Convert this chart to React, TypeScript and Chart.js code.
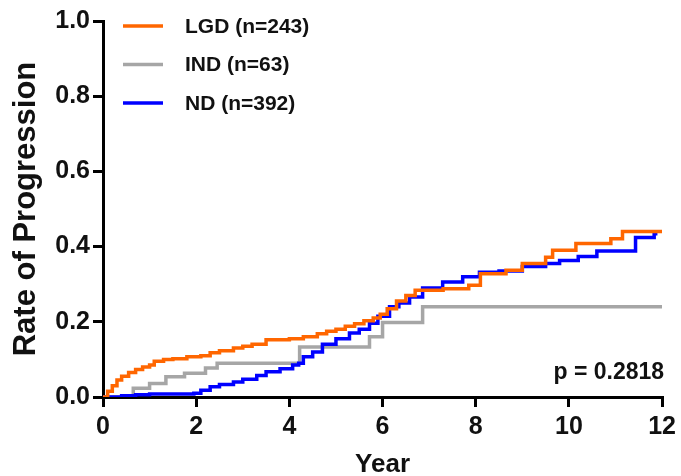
import React, { useEffect, useRef } from "react";
import { Chart, registerables } from "chart.js";

Chart.register(...registerables);

const lgdTimes = [0,0.1,0.2,0.3,0.4,0.55,0.7,0.85,1.0,1.1,1.3,1.5,1.8,2.1,2.3,2.5,2.8,3.0,3.2,3.5,4.0,4.3,4.6,4.8,5.0,5.2,5.4,5.6,5.8,5.95,6.1,6.3,6.5,6.7,7.3,7.85,8.1,8.65,9.0,9.5,9.65,10.15,10.9,11.15,12];
const lgdValues = [0,0.015,0.03,0.045,0.055,0.065,0.073,0.08,0.085,0.095,0.1,0.102,0.107,0.11,0.118,0.123,0.13,0.135,0.14,0.152,0.155,0.16,0.168,0.175,0.18,0.188,0.195,0.203,0.21,0.22,0.235,0.255,0.27,0.284,0.288,0.297,0.328,0.337,0.355,0.372,0.39,0.408,0.421,0.44,0.44];

const indTimes = [0,0.65,1.0,1.35,1.75,2.2,2.45,4.22,5.72,6.0,6.86,12];
const indValues = [0,0.023,0.036,0.054,0.063,0.077,0.09,0.133,0.16,0.198,0.24,0.24];

const ndTimes = [0,0.4,0.7,1.0,1.95,2.1,2.3,2.5,2.8,3.0,3.3,3.5,3.8,4.07,4.2,4.3,4.5,4.71,5.0,5.29,5.5,5.72,5.9,6.15,6.35,6.58,6.86,7.29,7.72,8.08,8.5,9.0,9.5,9.8,10.2,10.6,11.43,11.83,11.9];
const ndValues = [0,0.003,0.006,0.008,0.01,0.018,0.027,0.033,0.04,0.047,0.057,0.067,0.075,0.085,0.09,0.107,0.12,0.14,0.155,0.17,0.18,0.196,0.215,0.24,0.25,0.266,0.29,0.306,0.32,0.332,0.335,0.347,0.355,0.363,0.374,0.388,0.424,0.434,0.434];

const seriesLabels = ["LGD (n=243)", "IND (n=63)", "ND (n=392)"];
const seriesColors = ["#FF6600", "#A6A6A6", "#0000FF"];
const pValueText = "p = 0.2818";

const FONT = "'Liberation Sans', Arial, sans-serif";

const toPoints = (t: number[], v: number[]) => t.map((x, i) => ({ x, y: v[i] }));

const overlayPlugin = {
  id: "overlay",
  afterDraw(chart: any) {
    const ctx = chart.ctx;
    const area = chart.chartArea;
    ctx.save();
    const lx0 = area.left + 20;
    const lx1 = area.left + 60;
    const ty = area.top + 5;
    const gap = 38.5;
    ctx.font = `bold 21px ${FONT}`;
    ctx.textBaseline = "middle";
    ctx.textAlign = "left";
    seriesLabels.forEach((lab, i) => {
      const y = ty + i * gap;
      ctx.strokeStyle = seriesColors[i];
      ctx.lineWidth = 3.5;
      ctx.beginPath();
      ctx.moveTo(lx0, y);
      ctx.lineTo(lx1, y);
      ctx.stroke();
      ctx.fillStyle = "#111";
      ctx.fillText(lab, area.left + 82, y + 1);
    });
    ctx.font = `bold 23px ${FONT}`;
    ctx.textAlign = "right";
    ctx.fillText(pValueText, area.right + 2, area.bottom - 24);
    ctx.restore();
  },
};

export default function App() {
  const ref = useRef<HTMLCanvasElement>(null);
  useEffect(() => {
    document.body.style.margin = "0";
    const c = new Chart(ref.current!, {
      type: "line",
      data: {
        datasets: [
          { label: seriesLabels[0], data: toPoints(lgdTimes, lgdValues), borderColor: seriesColors[0], borderWidth: 3.5, stepped: true, pointRadius: 0, order: 0 },
          { label: seriesLabels[1], data: toPoints(indTimes, indValues), borderColor: seriesColors[1], borderWidth: 3.5, stepped: true, pointRadius: 0, order: 2 },
          { label: seriesLabels[2], data: toPoints(ndTimes, ndValues), borderColor: seriesColors[2], borderWidth: 3.5, stepped: true, pointRadius: 0, order: 1 },
        ],
      },
      options: {
        responsive: false,
        animation: false,
        layout: { padding: { left: 0, right: 18, top: 21, bottom: 0 } },
        plugins: { legend: { display: false }, tooltip: { enabled: false } },
        scales: {
          x: {
            type: "linear",
            min: 0,
            max: 12,
            ticks: { stepSize: 2, color: "#111", font: { family: FONT, size: 25, weight: "bold" }, padding: 5, maxRotation: 0 },
            grid: { display: true, drawOnChartArea: false, drawTicks: true, tickLength: 10, color: "#000", lineWidth: 3 },
            border: { display: true, color: "#000", width: 3 },
            title: { display: true, text: "Year", color: "#111", font: { family: FONT, size: 26, weight: "bold" }, padding: { top: 7, bottom: -4 } },
            afterFit: (s: any) => { s.height = 79; },
          },
          y: {
            type: "linear",
            min: 0,
            max: 1,
            ticks: { stepSize: 0.2, color: "#111", font: { family: FONT, size: 25, weight: "bold" }, padding: 3, callback: (v: any) => Number(v).toFixed(1) },
            grid: { display: true, drawOnChartArea: false, drawTicks: true, tickLength: 10, color: "#000", lineWidth: 3 },
            border: { display: true, color: "#000", width: 3 },
            title: { display: true, text: "Rate of Progression", color: "#111", font: { family: FONT, size: 31, weight: "bold" }, padding: { top: 8, bottom: 0 } },
            afterFit: (s: any) => { s.width = 103; },
          },
        },
      },
      plugins: [overlayPlugin],
    } as any);
    return () => c.destroy();
  }, []);
  return <canvas ref={ref} width={681} height={476} style={{ display: "block" }} />;
}
